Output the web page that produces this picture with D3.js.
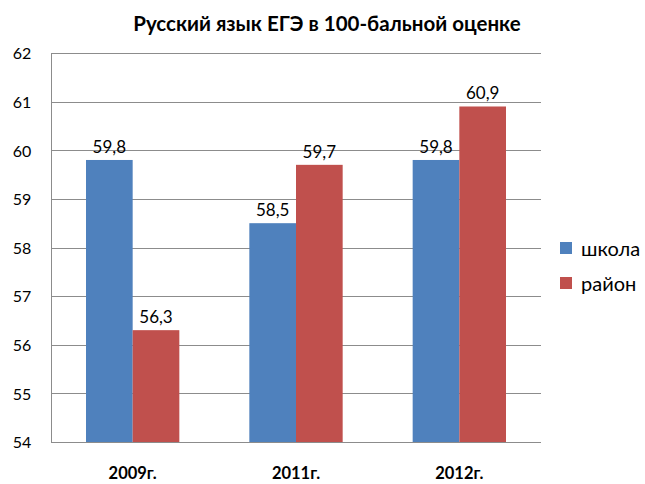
<!DOCTYPE html>
<html>
<head>
<meta charset="utf-8">
<script src="https://cdn.jsdelivr.net/npm/d3@7"></script>
<style>
  body { margin: 0; background: #fff; }
  text { font-family: Lato, "Open Sans", sans-serif; fill: #000; }
</style>
</head>
<body>
<div id="root"></div>
<script>
var categories = ["2009г.", "2011г.", "2012г."];
var seriesNames = ["школа", "район"];
var school = [59.8, 58.5, 59.8];
var district = [56.3, 59.7, 60.9];
var yTicks = [54, 55, 56, 57, 58, 59, 60, 61, 62];
var colors = ["#4F81BD", "#C0504D"];

var margin = { top: 53, left: 51 };
var width = 490, height = 389;

var svg = d3.select("#root").append("svg")
    .attr("width", 645)
    .attr("height", 484);

// title
svg.append("text")
    .attr("x", 327)
    .attr("y", 31)
    .attr("text-anchor", "middle")
    .style("font-size", "20.5px")
    .style("font-weight", "bold")
    .text("Русский язык ЕГЭ в 100-бальной оценке");

var g = svg.append("g")
    .attr("transform", "translate(" + margin.left + "," + margin.top + ")");

var x = d3.scaleBand()
    .domain(categories)
    .range([0, width]);

var y = d3.scaleLinear()
    .domain([54, 62])
    .range([height, 0]);

// bar width: 2 bars + 150% gap per category
var barW = x.bandwidth() / 3.5;

// gridlines
g.selectAll(".grid")
    .data(yTicks)
    .enter()
    .append("line")
    .attr("x1", 0)
    .attr("x2", width)
    .attr("y1", function (d) { return Math.round(y(d)) + 0.5; })
    .attr("y2", function (d) { return Math.round(y(d)) + 0.5; })
    .attr("stroke", "#8c8c8c")
    .attr("stroke-width", 1);

// left axis
var yAxis = d3.axisLeft(y)
    .tickValues(yTicks)
    .tickSize(0)
    .tickPadding(0);

var gy = g.append("g").call(yAxis);
gy.select(".domain").remove();
gy.selectAll("text")
    .attr("x", -29)
    .attr("dy", "0.36em")
    .style("font-family", "Lato, 'Open Sans', sans-serif")
    .style("font-size", "16px")
    .style("fill", "#000")
    .attr("text-anchor", "middle");

g.append("line")
    .attr("x1", 0.5).attr("x2", 0.5)
    .attr("y1", 0).attr("y2", height)
    .attr("stroke", "#8c8c8c");

var series = [school, district];

series.forEach(function (vals, si) {
    var bars = g.selectAll(".bar" + si)
        .data(vals)
        .enter()
        .append("g");

    bars.append("rect")
        .attr("x", function (d, i) { return x(categories[i]) + x.bandwidth() / 2 - barW + si * barW; })
        .attr("y", function (d) { return y(d); })
        .attr("width", barW)
        .attr("height", function (d) { return height - y(d); })
        .attr("fill", colors[si]);

    bars.append("text")
        .attr("x", function (d, i) { return x(categories[i]) + x.bandwidth() / 2 - barW / 2 + si * barW; })
        .attr("y", function (d) { return y(d) - 7; })
        .attr("text-anchor", "middle")
        .style("font-size", "17px")
        .text(function (d) { return String(d).replace(".", ","); });
});

// x labels
var xAxis = d3.axisBottom(x).tickSize(0).tickPadding(0);
var gx = g.append("g")
    .attr("transform", "translate(0," + height + ")")
    .call(xAxis);
gx.select(".domain").remove();
gx.selectAll("text")
    .attr("y", 37)
    .attr("dy", 0)
    .style("font-family", "Lato, 'Open Sans', sans-serif")
    .style("font-size", "16.5px")
    .style("fill", "#000")
    .style("font-weight", "bold");

g.append("line")
    .attr("x1", 0).attr("x2", width)
    .attr("y1", height + 0.5).attr("y2", height + 0.5)
    .attr("stroke", "#8c8c8c");

// legend
var legend = svg.selectAll(".legend")
    .data(seriesNames)
    .enter()
    .append("g")
    .attr("transform", function (d, i) { return "translate(560," + (242 + i * 35) + ")"; });

legend.append("rect")
    .attr("width", 12)
    .attr("height", 12)
    .attr("fill", function (d, i) { return colors[i]; });

legend.append("text")
    .attr("x", 21)
    .attr("y", 14)
    .style("font-size", "20px")
    .text(function (d) { return d; });
</script>
</body>
</html>
